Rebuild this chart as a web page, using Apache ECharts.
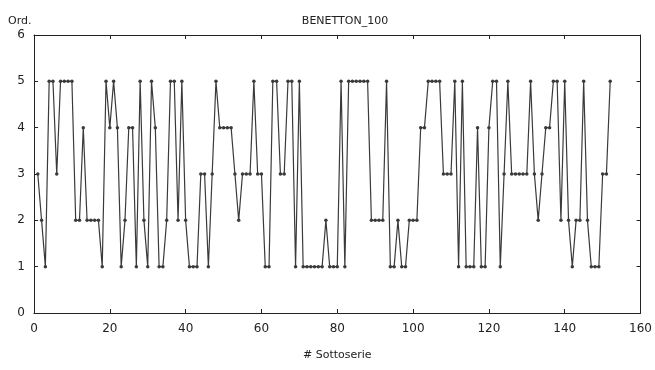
<!DOCTYPE html>
<html>
<head>
<meta charset="utf-8">
<script src="https://cdn.jsdelivr.net/npm/echarts@6/dist/echarts.min.js"></script>
<style>
  html, body { margin: 0; padding: 0; background: #fff; }
  #chart { width: 655px; height: 370px; }
</style>
</head>
<body>
<div id="chart"></div>
<script>
// Ordinal rank per sub-series, BENETTON_100
const subseries = [];
for (let i = 1; i <= 152; i++) subseries.push(i);

const ranks = [
  3,2,1,5,5,3,5,5,5,5,
  2,2,4,2,2,2,2,1,5,4,
  5,4,1,2,4,4,1,5,2,1,
  5,4,1,1,2,5,5,2,5,2,
  1,1,1,3,3,1,3,5,4,4,
  4,4,3,2,3,3,3,5,3,3,
  1,1,5,5,3,3,5,5,1,5,
  1,1,1,1,1,1,2,1,1,1,
  5,1,5,5,5,5,5,5,2,2,
  2,2,5,1,1,2,1,1,2,2,
  2,4,4,5,5,5,5,3,3,3,
  5,1,5,1,1,1,4,1,1,4,
  5,5,1,3,5,3,3,3,3,3,
  5,3,2,3,4,4,5,5,2,5,
  2,1,2,2,5,2,1,1,1,3,
  3,5
];

const titleText = 'BENETTON_100';
const yName = 'Ord.';
const xName = '# Sottoserie';

const FONT = 'DejaVu Sans';
const ink = '#222';
const lineColor = '#3a3a3a';

const points = subseries.map((x, i) => [x, ranks[i]]);

// top and right axes close the frame, ticks only
const frameAxis = {
  axisLine: { show: true, onZero: false, lineStyle: { color: ink, width: 1 } },
  axisTick: { show: true, inside: true, length: 4, lineStyle: { color: ink } },
  axisLabel: { show: false },
  splitLine: { show: false }
};

const chart = echarts.init(document.getElementById('chart'), null, { renderer: 'canvas' });
chart.setOption({
  animation: false,
  backgroundColor: '#fff',
  grid: { left: 34, right: 14, top: 35, bottom: 57 },
  graphic: [
    { type: 'text', x: 345, y: 16,
      style: { text: titleText, fill: ink, font: '11px ' + FONT, textAlign: 'center' } },
    { type: 'text', x: 8, y: 16,
      style: { text: yName, fill: ink, font: '11px ' + FONT } }
  ],
  xAxis: [
    {
      type: 'value', min: 0, max: 160, interval: 20, position: 'bottom',
      name: xName, nameLocation: 'middle', nameGap: 37,
      nameTextStyle: { color: ink, fontFamily: FONT, fontSize: 11 },
      axisLine: { show: true, onZero: false, lineStyle: { color: ink, width: 1 } },
      axisTick: { show: true, inside: true, length: 4, lineStyle: { color: ink } },
      axisLabel: { color: ink, fontFamily: FONT, fontSize: 12, margin: 10 },
      splitLine: { show: false }
    },
    Object.assign({ type: 'value', min: 0, max: 160, interval: 20, position: 'top' }, frameAxis)
  ],
  yAxis: [
    {
      type: 'value', min: 0, max: 6, interval: 1, position: 'left',
      axisLine: { show: true, onZero: false, lineStyle: { color: ink, width: 1 } },
      axisTick: { show: true, inside: true, length: 4, lineStyle: { color: ink } },
      axisLabel: { color: ink, fontFamily: FONT, fontSize: 12, margin: 9 },
      splitLine: { show: false }
    },
    Object.assign({ type: 'value', min: 0, max: 6, interval: 1, position: 'right' }, frameAxis)
  ],
  series: [{
    type: 'line',
    xAxisIndex: 0,
    yAxisIndex: 0,
    data: points,
    symbol: 'circle',
    symbolSize: 3.5,
    showSymbol: true,
    lineStyle: { color: lineColor, width: 1.2 },
    itemStyle: { color: lineColor }
  }]
});
</script>
</body>
</html>
